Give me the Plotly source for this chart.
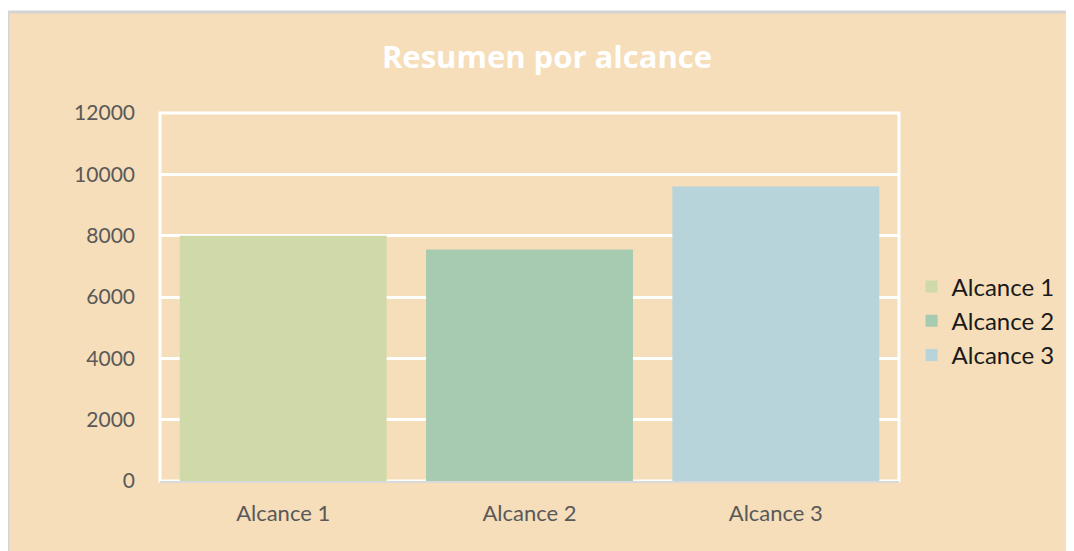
import plotly.graph_objects as go

categories = ["Alcance 1", "Alcance 2", "Alcance 3"]
values = [8000, 7550, 9600]
colors = ["#D0D9A8", "#A6CBB0", "#B7D4DA"]
y_ticks = [0, 2000, 4000, 6000, 8000, 10000, 12000]

# page has an 8px body margin; figure is sized to fill the rest
W, H = 1066, 543
L, R, T, B = 152, 175, 105, 70
pw, ph = W - L - R, H - T - B

def px_to_paper_x(px):
    return (px - L) / pw

def px_to_paper_y(py):
    return (H - B - py) / ph

fig = go.Figure()
for cat, val, col in zip(categories, values, colors):
    fig.add_trace(go.Bar(x=[cat], y=[val], name=cat, marker=dict(color=col, line=dict(width=0)),
                         hoverinfo="x+y"))

shapes = [
    dict(type="rect", xref="paper", yref="paper", layer="below",
         x0=px_to_paper_x(0), x1=px_to_paper_x(1080), y0=px_to_paper_y(560), y1=px_to_paper_y(4),
         fillcolor="#F5DEB9", line=dict(color="#D4D4D4", width=3)),
    dict(type="rect", xref="paper", yref="paper", layer="below",
         x0=0, x1=1, y0=0, y1=1, fillcolor="rgba(0,0,0,0)", line=dict(color="white", width=3)),
]

fig.update_layout(
    width=W, height=H,
    margin=dict(l=L, r=R, t=T, b=B, pad=0),
    paper_bgcolor="white",
    plot_bgcolor="rgba(0,0,0,0)",
    barmode="overlay",
    bargap=0.16,
    shapes=shapes,
    title=dict(text="<b>Resumen por alcance</b>", x=0.5056, xanchor="center", y=0.91, yanchor="middle",
               font=dict(family="Open Sans, Lato, sans-serif", size=31, color="white")),
    legend=dict(x=1.017, xanchor="left", y=0.435, yanchor="middle", bgcolor="rgba(0,0,0,0)",
                font=dict(family="Lato, Open Sans, sans-serif", size=24, color="#1a1a1a"),
                itemwidth=30),
    showlegend=True,
    font=dict(family="Lato, Open Sans, sans-serif"),
)

fig.update_xaxes(
    categoryorder="array", categoryarray=categories,
    showgrid=False, showline=True, linecolor="#D9D9D9", linewidth=2,
    tickfont=dict(size=22, color="#595959"), ticks="", ticklabelstandoff=12,
)
fig.update_yaxes(
    range=[0, 12000], tickvals=y_ticks, ticktext=[str(v) for v in y_ticks],
    showgrid=True, gridcolor="white", gridwidth=2.5, zeroline=False,
    showline=False, ticks="", ticklabelstandoff=24,
    tickfont=dict(size=21, color="#595959"),
)

fig.write_html("out.html")
